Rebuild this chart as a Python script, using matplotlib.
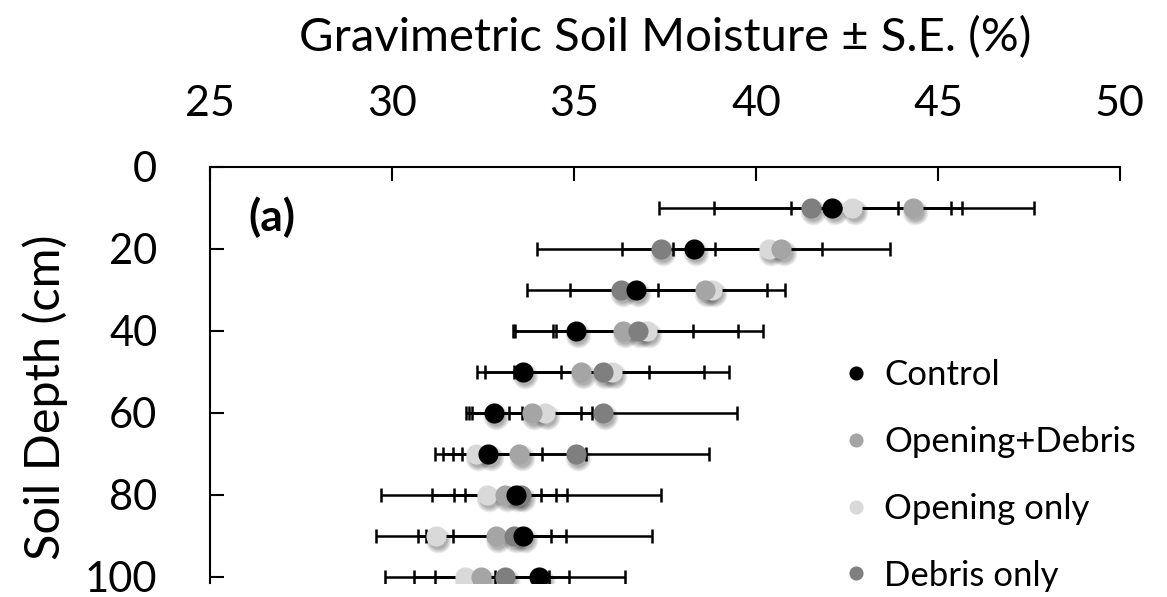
import numpy as np
import matplotlib.pyplot as plt
import matplotlib.transforms as mtransforms

# soil depth (cm) and gravimetric moisture (%) +- SE for each treatment
depth = [10, 20, 30, 40, 50, 60, 70, 80, 90, 100]

control = [42.1, 38.3, 36.7, 35.05, 33.6, 32.8, 32.65, 33.4, 33.6, 34.05]
control_se = [3.25, 1.97, 1.81, 1.66, 1.05, 0.78, 1.48, 1.4, 0.78, 0.82]

open_debris = [44.3, 40.7, 38.6, 36.35, 35.2, 33.85, 33.5, 33.1, 32.85, 32.45]
open_debris_se = [3.35, 2.98, 2.2, 1.92, 1.85, 1.65, 1.83, 1.4, 1.92, 1.86]

opening = [42.65, 40.35, 38.8, 37.0, 36.05, 34.2, 32.3, 32.6, 31.2, 32.0]
opening_se = [1.25, 1.47, 1.5, 2.5, 2.53, 0.98, 0.39, 1.5, 0.48, 0.83]

debris = [41.5, 37.4, 36.3, 36.75, 35.8, 35.8, 35.05, 33.55, 33.35, 33.1]
debris_se = [4.17, 3.41, 2.58, 3.44, 3.46, 3.68, 3.65, 3.85, 3.78, 3.3]

labels = ['Control', 'Opening+Debris', 'Opening only', 'Debris only']
colors = ['#000000', '#a5a5a5', '#d9d9d9', '#7f7f7f']

plt.rcParams['font.family'] = ['Lato', 'DejaVu Sans']

fig = plt.figure(figsize=(11.67, 5.97), dpi=100)
ax = fig.add_axes([0.18, 0.0235, 0.7797, 0.6968])

series = [(control, control_se), (open_debris, open_debris_se),
          (opening, opening_se), (debris, debris_se)]
# drawing order (lowest first)
order = [2, 1, 3, 0]

def shadow(ax, x, y, ms):
    # soft blurred drop shadow under the markers
    tr = mtransforms.offset_copy(ax.transData, fig=fig, x=1.5, y=-3.0, units='points')
    for k in range(5):
        ax.plot(x, y, 'o', ms=ms + 4 - k * 1.5, color='black', alpha=0.07, mec='none',
                transform=tr, zorder=2)

for i in order:
    vals, se = series[i]
    ax.errorbar(vals, depth, xerr=se, fmt='none', ecolor='black',
                elinewidth=1.8, capsize=5, capthick=1.8, zorder=1)

handles = [None] * 4
for z, i in enumerate(order):
    vals, se = series[i]
    shadow(ax, vals, depth, 14.5)
    h, = ax.plot(vals, depth, 'o', ms=14.5, color=colors[i], mec='none', zorder=3 + z)
    handles[i] = h

ax.set_xlim(25, 50)
ax.set_ylim(101.5, 0)
ax.xaxis.tick_top()
ax.xaxis.set_label_position('top')
ax.set_xticks(range(25, 51, 5))
ax.set_yticks(range(0, 101, 20))
ax.tick_params(axis='both', direction='in', length=10, width=1.5)
ax.tick_params(axis='x', labelsize=31, pad=32)
ax.tick_params(axis='y', labelsize=30, pad=38)
for s in ['right', 'bottom']:
    ax.spines[s].set_visible(False)
for s in ['left', 'top']:
    ax.spines[s].set_linewidth(1.5)

ax.set_xlabel('Gravimetric Soil Moisture ± S.E. (%)', fontsize=34, labelpad=24)
ax.set_ylabel('Soil Depth (cm)', fontsize=35)
ax.yaxis.set_label_coords(-0.156, 0.447)

ax.text(26.05, 12.3, '(a)', fontsize=32, fontweight='bold', va='center', ha='left')

fig.legend(handles, labels, loc='upper left', bbox_to_anchor=(0.719, 0.398),
           bbox_transform=fig.transFigure, frameon=False, fontsize=25,
           markerscale=0.7, handletextpad=0.3, labelspacing=1.0,
           handlelength=1.0, borderpad=0, borderaxespad=0)

fig.savefig('out.png', dpi=100)
